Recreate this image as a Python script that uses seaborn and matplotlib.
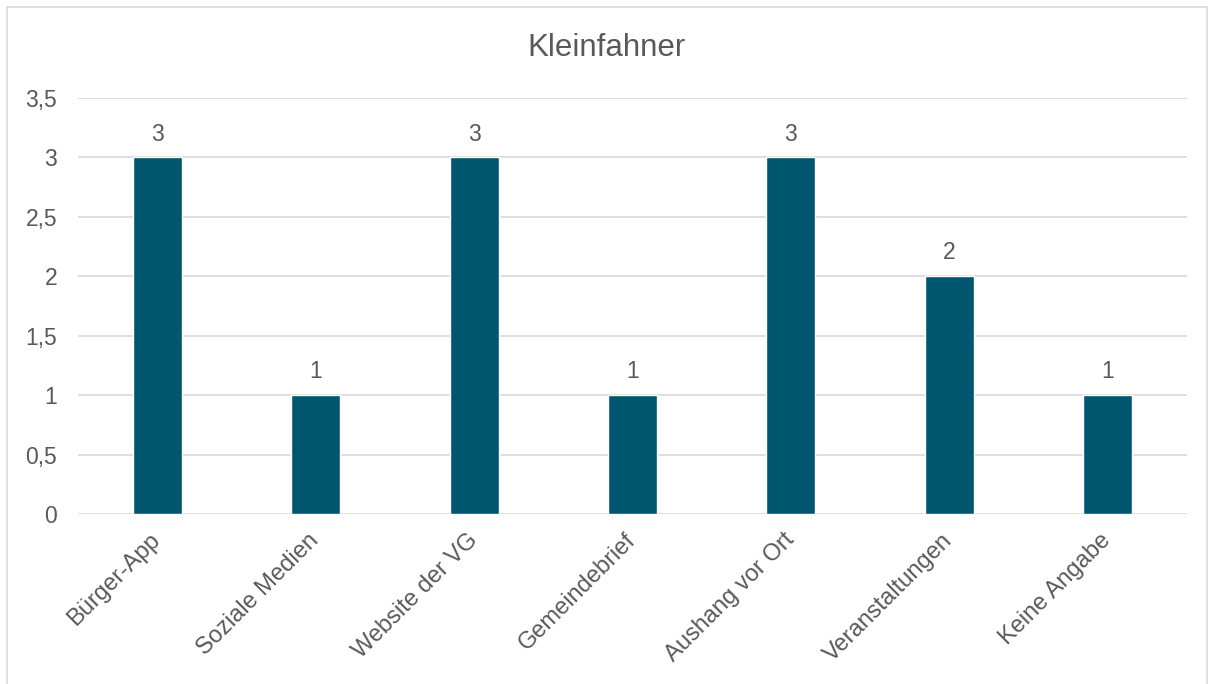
import matplotlib
matplotlib.use("Agg")
from matplotlib import pyplot as plt
from matplotlib.patches import Rectangle
import seaborn as sns
import pandas as pd

categories = ["Bürger-App", "Soziale Medien", "Website der VG", "Gemeindebrief",
              "Aushang vor Ort", "Veranstaltungen", "Keine Angabe"]
counts = [3, 1, 3, 1, 3, 2, 1]
y_ticks = [0, 0.5, 1, 1.5, 2, 2.5, 3, 3.5]
title = "Kleinfahner"

textColor = "#595959"
barColor = "#00566F"

sns.set_style("white")
plt.rcParams['font.family'] = ['Liberation Sans', 'DejaVu Sans']

df = pd.DataFrame({"Kategorie": categories, "Anzahl": counts})

fig = plt.figure(figsize=(12.12, 6.84), dpi=100)
ax = fig.add_axes([78/1212, 1-514/684, (1187-78)/1212, (514-98)/684])

sns.barplot(data=df, x="Kategorie", y="Anzahl", color=barColor, width=0.31,
            saturation=1, ax=ax, zorder=3)

for i, v in enumerate(counts):
    ax.text(i, v + 0.1, str(v), ha='center', va='bottom', fontsize=16.5, color=textColor)

ax.set_ylim(0, 3.5)
ax.set_xlim(-0.5, len(categories) - 0.5)
ax.set_yticks(y_ticks)
ax.set_yticklabels([("%g" % t).replace(".", ",") for t in y_ticks], fontsize=16.5, color=textColor)
ax.set_xticks(range(len(categories)))
ax.set_xticklabels(categories, rotation=45, ha='right', va='center', rotation_mode='anchor',
                   fontsize=17, color=textColor)
ax.tick_params(axis='x', length=0, pad=16.5)
ax.tick_params(axis='y', length=0, pad=15)
ax.set_xlabel("")
ax.set_ylabel("")
ax.grid(axis='y', color='#d9d9d9', linewidth=1.2, zorder=0)
for s in ax.spines.values():
    s.set_visible(False)

fig.text(0.5, 1 - 48/684, title, ha='center', va='center', fontsize=22.5, color=textColor)

# chart frame
fig.patches.append(Rectangle((7/1212, -0.01), 1200/1212, 1 - 7/684 + 0.01,
                             transform=fig.transFigure, fill=False,
                             edgecolor='#d9d9d9', linewidth=1.2))

fig.savefig("out.png", dpi=100)
